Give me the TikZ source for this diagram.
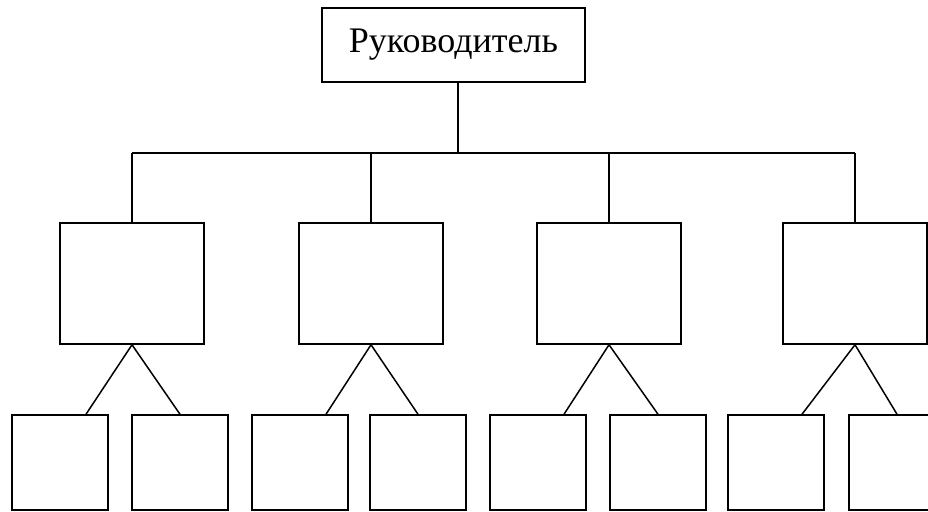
\documentclass[tikz,border=0pt]{standalone}
\usepackage{fontspec}
\setmainfont{Liberation Serif}
\begin{document}
\begin{tikzpicture}[x=1pt,y=-1pt,
  box/.style={draw=black,line width=1.5pt,rectangle,inner sep=0pt},
  midbox/.style={box,minimum width=144pt,minimum height=121pt},
  leafbox/.style={box,minimum width=96pt,minimum height=95pt},
  conn/.style={draw=black,line width=1.5pt}]
\useasboundingbox (0,0) rectangle (928,511);
\clip (0,0) rectangle (928,511);
\node[box,minimum width=263pt,minimum height=74pt,font=\fontsize{36}{36}\selectfont] (top) at (453.5,45) {Руководитель};
\coordinate (bus) at (458,153);
\node[midbox] (m1) at (132,283.5) {};
\node[midbox] (m2) at (371,283.5) {};
\node[midbox] (m3) at (609,283.5) {};
\node[midbox] (m4) at (855,283.5) {};
\node[leafbox] (b1) at (60,462.5) {};
\node[leafbox] (b2) at (180,462.5) {};
\node[leafbox] (b3) at (300,462.5) {};
\node[leafbox] (b4) at (418,462.5) {};
\node[leafbox] (b5) at (538,462.5) {};
\node[leafbox] (b6) at (658,462.5) {};
\node[leafbox] (b7) at (776,462.5) {};
\node[leafbox] (b8) at (897,462.5) {};
\draw[conn] (top.south -| bus) -- (bus);
\draw[conn] (m1.north |- bus) -- (m4.north |- bus);
\foreach \m in {m1,m2,m3,m4} \draw[conn] (\m.north) -- (\m.north |- bus);
\foreach \m/\l/\r in {m1/b1/b2,m2/b3/b4,m3/b5/b6,m4/b7/b8} {
  \draw[conn] ([xshift=26pt]\l.north) -- (\m.south) -- (\r.north);
}
\end{tikzpicture}
\end{document}
